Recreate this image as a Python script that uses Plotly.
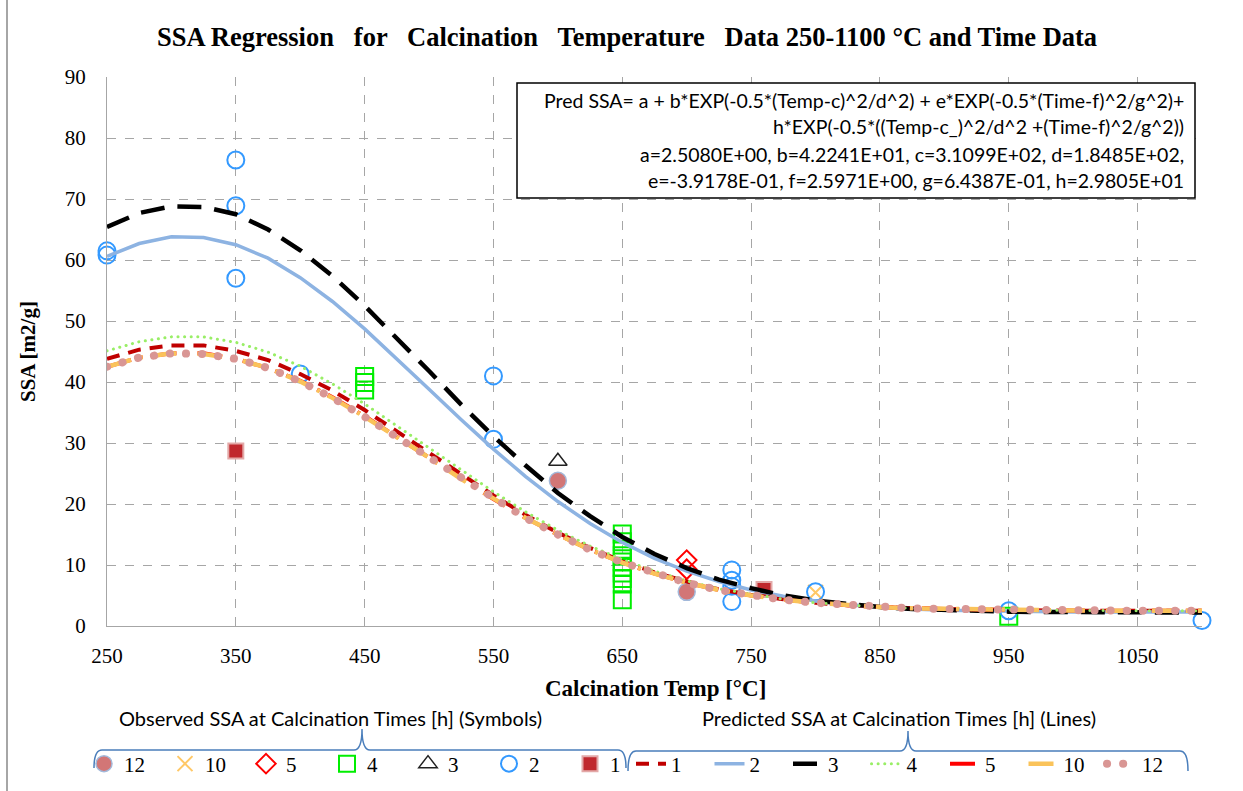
import plotly.graph_objects as go

# ---------------- data ----------------
temp_grid = [250, 275, 300, 325, 350, 375, 400, 425, 450, 475, 500, 525, 550, 575, 600,
             625, 650, 675, 700, 725, 750, 775, 800, 825, 850, 875, 900, 925, 950, 975,
             1000, 1025, 1050, 1075, 1100]

pred_1h = [43.8, 45.3, 46.0, 46.0, 45.1, 43.6, 41.3, 38.6, 35.4, 31.9, 28.3, 24.8, 21.4, 18.2, 15.3,
           12.8, 10.6, 8.8, 7.3, 6.0, 5.1, 4.4, 3.8, 3.4, 3.1, 2.9, 2.8, 2.7, 2.6, 2.6,
           2.5, 2.5, 2.5, 2.5, 2.5]
pred_2h = [60.6, 62.7, 63.8, 63.7, 62.5, 60.3, 57.1, 53.2, 48.7, 43.8, 38.8, 33.8, 29.0, 24.5, 20.4,
           16.8, 13.7, 11.1, 9.0, 7.3, 5.9, 4.9, 4.1, 3.5, 3.1, 2.8, 2.6, 2.5, 2.4, 2.35,
           2.3, 2.3, 2.3, 2.3, 2.3]
pred_3h = [65.4, 67.7, 68.8, 68.7, 67.5, 65.0, 61.6, 57.4, 52.5, 47.2, 41.8, 36.3, 31.1, 26.3, 21.8,
           18.0, 14.6, 11.8, 9.5, 7.6, 6.2, 5.0, 4.2, 3.6, 3.1, 2.8, 2.6, 2.45, 2.35, 2.3,
           2.25, 2.2, 2.2, 2.2, 2.2]
pred_4h = [45.1, 46.6, 47.4, 47.4, 46.5, 44.9, 42.6, 39.7, 36.4, 32.8, 29.2, 25.5, 22.0, 18.7, 15.7,
           13.1, 10.9, 9.0, 7.4, 6.1, 5.2, 4.4, 3.8, 3.4, 3.1, 2.9, 2.75, 2.65, 2.6, 2.55,
           2.5, 2.5, 2.5, 2.5, 2.5]
pred_5h = [42.5, 44.0, 44.7, 44.7, 43.8, 42.3, 40.2, 37.5, 34.4, 31.0, 27.6, 24.1, 20.8, 17.7, 15.0,
           12.5, 10.4, 8.6, 7.1, 5.9, 5.0, 4.3, 3.8, 3.4, 3.1, 2.9, 2.8, 2.7, 2.6, 2.6,
           2.55, 2.5, 2.5, 2.5, 2.5]
pred_10h = [42.5, 44.0, 44.7, 44.6, 43.8, 42.3, 40.1, 37.4, 34.3, 31.0, 27.6, 24.1, 20.8, 17.7, 15.0,
            12.5, 10.4, 8.6, 7.1, 5.9, 5.0, 4.3, 3.8, 3.4, 3.1, 2.9, 2.8, 2.7, 2.6, 2.6,
            2.55, 2.5, 2.5, 2.5, 2.5]
pred_12h = [42.5, 44.0, 44.7, 44.6, 43.8, 42.3, 40.1, 37.4, 34.3, 31.0, 27.6, 24.1, 20.8, 17.7, 15.0,
            12.5, 10.4, 8.6, 7.1, 5.9, 5.0, 4.3, 3.8, 3.4, 3.1, 2.9, 2.8, 2.7, 2.6, 2.6,
            2.55, 2.5, 2.5, 2.5, 2.5]

obs12_temp = [600, 700]
obs12_ssa = [23.8, 5.6]
obs10_temp = [800]
obs10_ssa = [5.5]
obs5_temp = [700, 700]
obs5_ssa = [10.8, 9.3]
obs4_temp = [450, 450, 450, 650, 650, 650, 650, 650, 650, 650, 650, 650, 650, 950]
obs4_ssa = [40.9, 39.9, 38.7, 15.1, 13.8, 12.6, 11.5, 10.5, 9.6, 8.7, 7.8, 6.9, 4.3, 1.6]
obs3_temp = [600]
obs3_ssa = [27.0]
obs2_temp = [250, 250, 350, 350, 350, 400, 550, 550, 735, 735, 735, 735, 800, 950, 1100]
obs2_ssa = [61.5, 60.8, 76.4, 68.9, 57.0, 41.3, 41.0, 30.6, 9.2, 7.5, 6.5, 4.0, 5.6, 2.5, 0.9]
obs1_temp = [350, 760]
obs1_ssa = [28.7, 6.0]

x_ticks = [250, 350, 450, 550, 650, 750, 850, 950, 1050]
y_ticks = [0, 10, 20, 30, 40, 50, 60, 70, 80, 90]

title_text = "SSA Regression   for   Calcination   Temperature   Data 250-1100 °C and Time Data"
eq_lines = [
    "Pred SSA= a + b*EXP(-0.5*(Temp-c)^2/d^2) + e*EXP(-0.5*(Time-f)^2/g^2)+",
    "h*EXP(-0.5*((Temp-c_)^2/d^2 +(Time-f)^2/g^2))",
    "a=2.5080E+00, b=4.2241E+01, c=3.1099E+02, d=1.8485E+02,",
    "e=-3.9178E-01, f=2.5971E+00, g=6.4387E-01, h=2.9805E+01",
]

# ---------------- layout helpers ----------------
W, H = 1243, 791
L, R, T, B = 107, 1202, 77, 626


def px(x):
    return (x - L) / (R - L)


def py(y):
    return (B - y) / (B - T)


SERIF = "Liberation Serif"
SANS = "Lato"

fig = go.Figure()

# observed symbols (legend 1)
fig.add_trace(go.Scatter(x=obs12_temp, y=obs12_ssa, mode="markers", name="12", cliponaxis=False,
                         legend="legend",
                         marker=dict(symbol="circle", size=17, color="#D27676",
                                     line=dict(color="#A3B9DA", width=1.5))))
fig.add_trace(go.Scatter(x=obs10_temp, y=obs10_ssa, mode="markers", name="10", cliponaxis=False,
                         legend="legend",
                         marker=dict(symbol="x-thin-open", size=15, color="#FFC866",
                                     line=dict(color="#FFC866", width=2))))
fig.add_trace(go.Scatter(x=obs5_temp, y=obs5_ssa, mode="markers", name="5", cliponaxis=False,
                         legend="legend",
                         marker=dict(symbol="diamond-open", size=15, color="#FF0000",
                                     line=dict(width=2))))
fig.add_trace(go.Scatter(x=obs4_temp, y=obs4_ssa, mode="markers", name="4", cliponaxis=False,
                         legend="legend",
                         marker=dict(symbol="square-open", size=17, color="#00EE00",
                                     line=dict(width=2))))
fig.add_trace(go.Scatter(x=obs3_temp, y=obs3_ssa, mode="markers", name="3", cliponaxis=False,
                         legend="legend",
                         marker=dict(symbol="triangle-up-open", size=16, color="#222222",
                                     line=dict(width=1.5))))
fig.add_trace(go.Scatter(x=obs2_temp, y=obs2_ssa, mode="markers", name="2", cliponaxis=False,
                         legend="legend",
                         marker=dict(symbol="circle-open", size=17, color="#3399FF",
                                     line=dict(width=2))))
fig.add_trace(go.Scatter(x=obs1_temp, y=obs1_ssa, mode="markers", name="1", cliponaxis=False,
                         legend="legend",
                         marker=dict(symbol="square", size=15, color="#C0282D",
                                     line=dict(color="#E3A9A8", width=2))))

# predicted lines (legend 2)
line_specs = [
    ("1", pred_1h, "#C00000", 4, "13px,9px"),
    ("2", pred_2h, "#8DB3E2", 3.5, "solid"),
    ("3", pred_3h, "#000000", 4.5, "24px,13px"),
    ("4", pred_4h, "#99EE66", 3, "0.1px,6.5px"),
    ("5", pred_5h, "#FF0000", 4, "25px,9px,3px,9px"),
    ("10", pred_10h, "#FAC35A", 4.5, "25px,9px,3px,9px"),
    ("12", pred_12h, "#D99694", 8, "0.1px,16px"),
]
for name, vals, col, wid, dash in line_specs:
    fig.add_trace(go.Scatter(x=temp_grid, y=vals, mode="lines", name=name, legend="legend2",
                             line=dict(color=col, width=wid, dash=dash)))

grid_col = "#A6A6A6"
fig.update_xaxes(range=[250, 1100], tickvals=x_ticks, showgrid=True, gridcolor=grid_col,
                 griddash="dash", gridwidth=1, showline=True, linecolor=grid_col, linewidth=1,
                 zeroline=False, ticks="", ticklabelstandoff=11, automargin=False,
                 tickfont=dict(family=SERIF, size=21, color="black"))
fig.update_yaxes(range=[0, 90], tickvals=y_ticks, showgrid=True, gridcolor=grid_col,
                 griddash="dash", gridwidth=1, showline=True, linecolor=grid_col, linewidth=1,
                 zeroline=False, ticks="", ticklabelstandoff=16, automargin=False,
                 tickfont=dict(family=SERIF, size=21, color="black"))

annotations = [
    dict(text="<b>" + title_text + "</b>", x=px(627), y=py(37), xref="paper", yref="paper",
         showarrow=False, xanchor="center", yanchor="middle",
         font=dict(family=SERIF, size=26.5, color="black")),
    dict(text="<b>Calcination Temp [°C]</b>", x=px(655), y=py(688), xref="paper", yref="paper",
         showarrow=False, xanchor="center", yanchor="middle",
         font=dict(family=SERIF, size=23, color="black")),
    dict(text="<b>SSA [m2/g]</b>", x=px(28), y=py(352), xref="paper", yref="paper",
         showarrow=False, xanchor="center", yanchor="middle", textangle=-90,
         font=dict(family=SERIF, size=21, color="black")),
    dict(text="Observed SSA at Calcination Times [h] (Symbols)", x=px(330), y=py(718),
         xref="paper", yref="paper", showarrow=False, xanchor="center", yanchor="middle",
         font=dict(family=SANS, size=20, color="black")),
    dict(text="Predicted SSA at Calcination Times [h] (Lines)", x=px(899), y=py(718),
         xref="paper", yref="paper", showarrow=False, xanchor="center", yanchor="middle",
         font=dict(family=SANS, size=20, color="black")),
]
eq_y = [100, 127, 154, 180]
for txt, yy in zip(eq_lines, eq_y):
    annotations.append(dict(text=txt, x=px(1186), y=py(yy), xref="paper", yref="paper",
                            showarrow=False, xanchor="right", yanchor="middle",
                            font=dict(family=SANS, size=19.5, color="black")))


def brace(x0, xm, x1, ytop, ybar, ybot):
    pts = [
        f"M {px(x0)},{py(ybot)}",
        f"Q {px(x0)},{py(ybar)} {px(x0 + 8)},{py(ybar)}",
        f"L {px(xm - 8)},{py(ybar)}",
        f"Q {px(xm)},{py(ybar)} {px(xm)},{py(ytop)}",
        f"Q {px(xm)},{py(ybar)} {px(xm + 8)},{py(ybar)}",
        f"L {px(x1 - 8)},{py(ybar)}",
        f"Q {px(x1)},{py(ybar)} {px(x1)},{py(ybot)}",
    ]
    return " ".join(pts)


shapes = [
    dict(type="rect", xref="paper", yref="paper", x0=px(517), x1=px(1195), y0=py(198), y1=py(83),
         line=dict(color="black", width=1.5), fillcolor="white", layer="above"),
    dict(type="path", xref="paper", yref="paper", path=brace(94, 362, 626, 729, 750, 768),
         line=dict(color="#4A7EBB", width=1.5)),
    dict(type="path", xref="paper", yref="paper", path=brace(628, 908, 1188, 731, 751, 771),
         line=dict(color="#4A7EBB", width=1.5)),
    dict(type="line", xref="paper", yref="paper", x0=px(7), x1=px(7), y0=py(0), y1=py(791),
         line=dict(color="#A6A6A6", width=2)),
]

legend_common = dict(orientation="h", xref="container", yref="container",
                     xanchor="left", yanchor="middle",
                     font=dict(family=SERIF, size=21, color="black"),
                     entrywidthmode="pixels", bgcolor="rgba(0,0,0,0)", itemwidth=30,
                     traceorder="normal")

fig.update_layout(
    width=W, height=H,
    margin=dict(l=L, r=W - R, t=T, b=H - B, autoexpand=False),
    paper_bgcolor="white", plot_bgcolor="white",
    showlegend=True,
    legend=dict(x=84 / W, y=(H - 764) / H, entrywidth=36, **legend_common),
    legend2=dict(x=631 / W, y=(H - 764) / H, entrywidth=33.5, **legend_common),
    annotations=annotations,
    shapes=shapes,
)

post = """
var st=document.createElement('style');
st.innerHTML='path.js-line[style*="rgb(217, 150, 148)"], path.js-line[style*="rgb(153, 238, 102)"], .legendlines path[style*="rgb(217, 150, 148)"], .legendlines path[style*="rgb(153, 238, 102)"]{stroke-linecap:round !important;}';
document.head.appendChild(st);
"""

fig.write_html("out.html", post_script=post)
